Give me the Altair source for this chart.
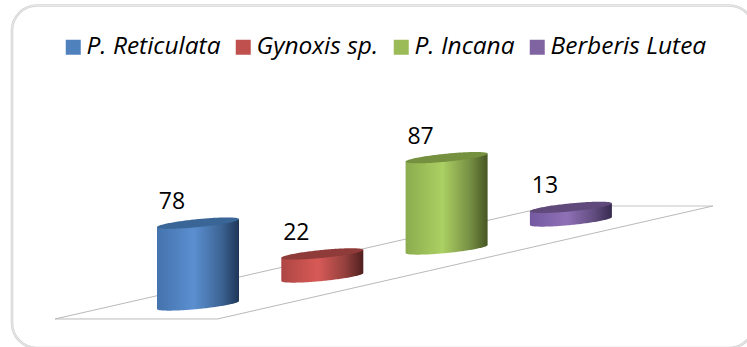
import altair as alt
import numpy as np
import pandas as pd

# Series
species = ["P. Reticulata", "Gynoxis sp.", "P. Incana", "Berberis Lutea"]
counts = [78, 22, 87, 13]
base_colors = ["#4f81bd", "#c0504d", "#9bbb59", "#8064a2"]
cap_colors = ["#3a6597", "#8f3b39", "#75903f", "#604a7b"]
body_edge_colors = ["#4473ad", "#ad4643", "#8cac4e", "#7359a0"]
body_light_colors = ["#5b8fd0", "#d85a57", "#abd063", "#8f70b6"]
body_mid_colors = ["#3d6595", "#93403d", "#779044", "#624d80"]
body_dark_colors = ["#1e3658", "#4f1f1e", "#465623", "#372a4f"]

# Oblique projection: x runs in bar slots, y in count units
SLOT_PX = 124.3
UNIT_PX = 1.05
ORIGIN_X = 198.0
ORIGIN_Y = 305.0
FLOOR_RISE = 28.0 / UNIT_PX   # count units the floor climbs per slot
HALF_WIDTH = 41.0 / SLOT_PX   # half a cylinder's width, in slots
CAP_TILT = 4.0 / UNIT_PX      # rise of the ellipse axis from centre to right edge
CAP_RADIUS = 4.0 / UNIT_PX    # half height of the ellipse

WIDTH, HEIGHT = 747, 347
FONT = "Open Sans"
x_scale = alt.Scale(domain=[-ORIGIN_X / SLOT_PX, (WIDTH - ORIGIN_X) / SLOT_PX], nice=False, zero=False)
y_scale = alt.Scale(domain=[(ORIGIN_Y - HEIGHT) / UNIT_PX, ORIGIN_Y / UNIT_PX], nice=False, zero=False)


def xy(x_field="s", y_field="v"):
    return dict(
        x=alt.X(f"{x_field}:Q", scale=x_scale, axis=None),
        y=alt.Y(f"{y_field}:Q", scale=y_scale, axis=None),
    )


u = np.sin(np.linspace(-np.pi / 2, np.pi / 2, 81))
root = np.sqrt(np.clip(1 - u**2, 0, 1))

layers = []

# Card behind everything, with a double-line border; it runs past the right edge of the canvas
card = pd.DataFrame({"k": [0]})
for stroke, stroke_width, fill in [("#d4d4d4", 2.6, "white"), ("#f3f3f3", 0.7, "transparent")]:
    layers.append(
        alt.Chart(card).mark_rect(
            fill=fill, stroke=stroke, strokeWidth=stroke_width, cornerRadius=25
        ).encode(x=alt.value(12), x2=alt.value(754), y=alt.value(5.5), y2=alt.value(348))
    )

# Floor plane
FLOOR_FRONT = -13.3
FLOOR_BACK = 94.3
front_left, front_right = -1.15, 0.157
back_left, back_right = 2.84, 4.143
floor_lines = pd.DataFrame({
    "s": [back_left, front_left, front_right, back_right],
    "v": [FLOOR_BACK, FLOOR_FRONT, FLOOR_FRONT, FLOOR_BACK],
    "o": [0, 1, 2, 3],
})
floor_back = pd.DataFrame({"s": [back_left, back_right], "v": [FLOOR_BACK, FLOOR_BACK]})
layers.append(alt.Chart(floor_back).mark_line(color="#e2e2e2", strokeWidth=2).encode(**xy()))
layers.append(
    alt.Chart(floor_lines).mark_line(color="#b9b9b9", strokeWidth=1).encode(
        order="o:Q", **xy()
    )
)

# Invisible points carry the colour scale for the legend
legend_data = pd.DataFrame({"species": species, "s": range(4), "v": [c + i * FLOOR_RISE for i, c in enumerate(counts)]})
layers.append(
    alt.Chart(legend_data).mark_square(opacity=0).encode(
        color=alt.Color(
            "species:N",
            scale=alt.Scale(domain=species, range=base_colors),
            sort=species,
            legend=alt.Legend(
                title=None,
                orient="none",
                legendX=61,
                legendY=35,
                direction="horizontal",
                columns=4,
                gridAlign="none",
                symbolType="square",
                symbolSize=225,
                symbolOpacity=1,
                symbolStrokeWidth=0,
                labelFont=FONT,
                labelFontStyle="italic",
                labelFontSize=24.5,
                labelColor="black",
                labelOffset=1,
                columnPadding=10,
                labelLimit=300,
                padding=0,
            ),
        ),
        **xy(),
    )
)

# Cylinders: side wall with a horizontal shading gradient, then the darker cap
for i, (name, count) in enumerate(zip(species, counts)):
    base = i * FLOOR_RISE
    top = base + count
    s = i + u * HALF_WIDTH
    wall = pd.DataFrame({
        "s": s,
        "lo": base + CAP_TILT * u - CAP_RADIUS * root,
        "hi": top + CAP_TILT * u,
    })
    cap = pd.DataFrame({
        "s": s,
        "lo": top + CAP_TILT * u - CAP_RADIUS * root,
        "hi": top + CAP_TILT * u + CAP_RADIUS * root,
    })
    shading = alt.LinearGradient(
        gradient="linear",
        stops=[
            alt.GradientStop(color=body_edge_colors[i], offset=0),
            alt.GradientStop(color=body_light_colors[i], offset=0.45),
            alt.GradientStop(color=body_mid_colors[i], offset=0.78),
            alt.GradientStop(color=body_dark_colors[i], offset=1),
        ],
        x1=0, x2=1, y1=0, y2=0,
    )
    layers.append(
        alt.Chart(wall).mark_area(color=shading).encode(
            x=alt.X("s:Q", scale=x_scale, axis=None),
            y=alt.Y("lo:Q", scale=y_scale, axis=None),
            y2="hi:Q",
        )
    )
    layers.append(
        alt.Chart(cap).mark_area(color=cap_colors[i]).encode(
            x=alt.X("s:Q", scale=x_scale, axis=None),
            y=alt.Y("lo:Q", scale=y_scale, axis=None),
            y2="hi:Q",
        )
    )

# Value labels, up and to the left of each cap
LABEL_SHIFT = 26.0 / SLOT_PX
LABEL_LIFT = 18.0 / UNIT_PX
labels = pd.DataFrame({
    "s": [i - LABEL_SHIFT for i in range(4)],
    "v": [i * FLOOR_RISE + c - CAP_TILT + LABEL_LIFT for i, c in enumerate(counts)],
    "count": counts,
})
layers.append(
    alt.Chart(labels).mark_text(
        font=FONT, fontSize=23, color="black", align="center", baseline="alphabetic"
    ).encode(text="count:Q", **xy())
)

chart = (
    alt.layer(*layers)
    .properties(width=WIDTH, height=HEIGHT, padding=0, background="white",
                autosize=alt.AutoSizeParams(type="none"))
    .configure_view(stroke=None)
)

chart.save("out.html", embed_options={"renderer": "svg", "actions": False})
